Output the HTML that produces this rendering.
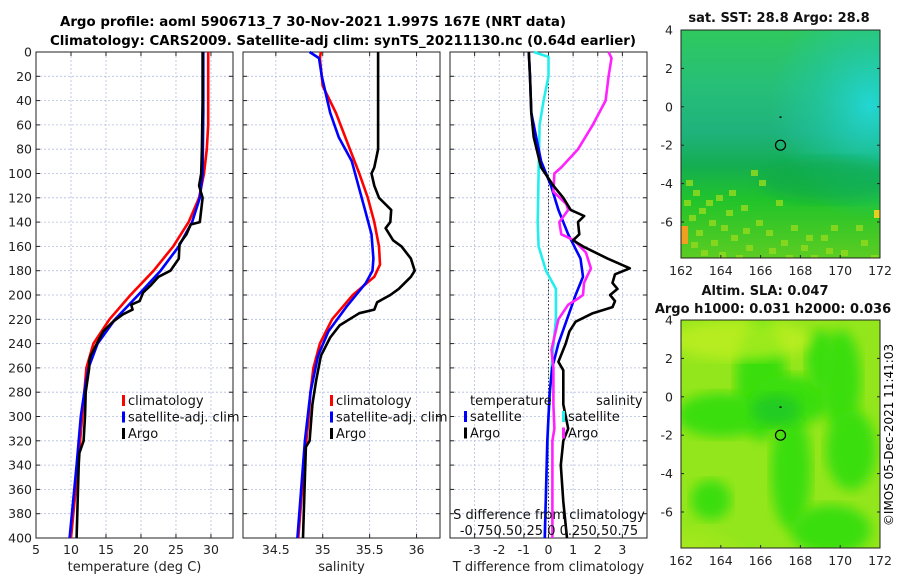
<!DOCTYPE html>
<html><head><meta charset="utf-8"><style>
html,body{margin:0;padding:0;background:#fff;width:900px;height:580px;overflow:hidden;}
svg{display:block;font-family:"DejaVu Sans","Liberation Sans",sans-serif;}
</style></head><body>
<svg id="fig" width="900" height="580" viewBox="0 0 900 580">
<defs>
<linearGradient id="sstV" x1="0" y1="0" x2="0" y2="1">
<stop offset="0" stop-color="#2fc85e"/><stop offset="0.25" stop-color="#26bf78"/><stop offset="0.45" stop-color="#1fb27c"/><stop offset="0.6" stop-color="#14ae50"/><stop offset="0.75" stop-color="#22c42a"/><stop offset="1" stop-color="#5ccc22"/>
</linearGradient>
<radialGradient id="sstCyan" cx="0.95" cy="0.33" r="0.5"><stop offset="0" stop-color="#22d8d8" stop-opacity="0.95"/><stop offset="0.6" stop-color="#20c8b0" stop-opacity="0.45"/><stop offset="1" stop-color="#20c8b0" stop-opacity="0"/></radialGradient>
<radialGradient id="slaYel" cx="0" cy="1" r="0.6"><stop offset="0" stop-color="#f0d820"/><stop offset="0.6" stop-color="#c8ec20" stop-opacity="0.7"/><stop offset="1" stop-color="#c8ec20" stop-opacity="0"/></radialGradient>
<filter id="blur6"><feGaussianBlur stdDeviation="6"/></filter>
<clipPath id="clipM1"><rect x="681" y="30" width="199" height="228"/></clipPath>
<clipPath id="clipM2"><rect x="681" y="320" width="199" height="228"/></clipPath>
</defs>
<g font-weight="bold" font-size="13" text-anchor="middle">
<text x="313" y="26" textLength="506" lengthAdjust="spacingAndGlyphs">Argo profile: aoml 5906713_7 30-Nov-2021 1.997S 167E (NRT data)</text>
<text x="343" y="45" textLength="586" lengthAdjust="spacingAndGlyphs">Climatology: CARS2009. Satellite-adj clim: synTS_20211130.nc (0.64d earlier)</text>
</g>
<g id="p1"></g>
<g id="p2"></g>
<g id="p3"></g>
<g id="m1"></g>
<g id="m2"></g>
<text x="893" y="435" font-size="12" text-anchor="middle" transform="rotate(-90 893 435)">©IMOS 05-Dec-2021 11:41:03</text>
</svg>
<script>
// ---- data ----
const depthTicks=[0,20,40,60,80,100,120,140,160,180,200,220,240,260,280,300,320,340,360,380,400];
const tempTicks=[5,10,15,20,25,30];
const salTicks=[34.5,35,35.5,36];
const tdiffTicks=[-3,-2,-1,0,1,2,3];
const tClimD=[0,20,60,80,100,120,140,160,180,200,220,240,260,280,300,340,400];
const tClimV=[29.6,29.6,29.6,29.4,29.0,28.3,26.8,24.6,21.8,18.5,15.5,13.2,12.2,11.9,11.6,11.0,10.0];
const tSatD=[0,50,100,120,140,160,180,200,220,240,260,280,300,340,400];
const tSatV=[28.9,28.9,28.8,28.4,27.3,25.4,22.8,19.6,16.3,13.8,12.5,11.9,11.4,10.8,9.8];
const tArgoD=[0,40,80,100,110,120,140,142,150,158,170,180,185,192,198,205,208,212,216,222,230,240,250,255,260,280,300,320,330,340,360,400];
const tArgoV=[28.8,28.8,28.7,28.6,28.3,28.8,28.4,27.1,26.5,25.5,25.4,24.2,22.5,21.4,20.3,19.8,18.6,18.8,17.4,16.0,14.6,13.7,12.8,12.6,12.6,12.1,12.0,11.8,11.2,11.1,11.0,10.8];
const sClimD=[0,5,28,50,80,100,120,140,160,175,185,200,220,240,260,280,300,340,400];
const sClimV=[34.98,34.97,35.0,35.14,35.29,35.39,35.48,35.55,35.6,35.61,35.55,35.32,35.1,34.97,34.9,34.87,34.85,34.8,34.74];
const sSatD=[0,5,20,50,70,90,110,130,150,170,180,190,210,230,250,280,320,400];
const sSatV=[34.86,34.96,34.99,35.08,35.17,35.31,35.38,35.45,35.52,35.54,35.53,35.46,35.25,35.06,34.95,34.87,34.81,34.73];
const sArgoD=[0,80,95,100,110,120,130,140,145,155,160,170,180,185,195,200,206,212,215,225,235,250,270,290,320,325,350,400];
const sArgoV=[35.59,35.59,35.55,35.52,35.55,35.6,35.73,35.72,35.67,35.75,35.84,35.94,35.98,35.94,35.81,35.72,35.58,35.55,35.39,35.18,35.08,34.98,34.93,34.89,34.86,34.82,34.81,34.79];
const dtSatD=[0,20,50,70,90,110,130,150,170,185,200,220,240,260,280,320,400];
const dtSatV=[-0.8,-0.75,-0.7,-0.5,-0.3,0.1,0.4,0.8,1.3,1.4,1.1,0.75,0.4,0.15,0.05,-0.05,-0.15];
const dtArgoD=[0,20,50,70,95,110,120,130,135,140,150,155,160,170,178,183,190,195,200,205,210,215,222,230,240,255,262,275,290,310,320,340,370,400];
const dtArgoV=[-0.8,-0.75,-0.7,-0.6,-0.3,0.2,0.6,0.9,1.45,1.2,1.25,1.0,1.4,2.4,3.3,2.7,2.6,2.8,2.5,2.7,2.6,1.8,1.1,0.85,0.7,0.4,0.6,0.6,0.6,0.8,0.6,0.5,0.6,0.75];
const dsSatD=[0,4,20,40,60,100,140,160,180,195,220,250,300,400];
const dsSatV=[-0.15,0,0,-0.05,-0.09,-0.1,-0.11,-0.1,-0.025,0.075,0.075,0.04,0,-0.04];
const dsArgoD=[0,5,20,40,60,80,95,100,115,125,130,140,150,155,165,178,190,200,203,208,220,245,260,290,310,320,400];
const dsArgoV=[0.61,0.64,0.61,0.58,0.45,0.3,0.13,0.06,0.05,0.18,0.2,0.11,0.13,0.26,0.38,0.43,0.36,0.35,0.3,0.2,0.1,0.03,0.05,0.05,0.06,0.04,0.04];
const latTicks=[4,2,0,-2,-4,-6];
const lonTicks=[162,164,166,168,170,172];

const NS='http://www.w3.org/2000/svg';
function mk(parent,tag,attrs,txt){const e=document.createElementNS(NS,tag);for(const k in attrs)e.setAttribute(k,attrs[k]);if(txt!==undefined)e.textContent=txt;parent.appendChild(e);return e;}
const Y0=52,Y1=538;
const yD=d=>Y0+(Y1-Y0)*d/400;

function panel(g,x0,x1,xmin,xmax,xt,showY,xlabel,xtlabels){
  const xs=v=>x0+(x1-x0)*(v-xmin)/(xmax-xmin);
  depthTicks.forEach(d=>{const l=mk(g,'line',{x1:x0,x2:x1,y1:yD(d),y2:yD(d),stroke:'#b4bedf','stroke-width':0.8,'stroke-dasharray':'2,2'});
    
    
    mk(g,'line',{x1:x0,x2:x0+4,y1:yD(d),y2:yD(d),stroke:'#222'});mk(g,'line',{x1:x1-4,x2:x1,y1:yD(d),y2:yD(d),stroke:'#222'});
    if(showY){const t=mk(g,'text',{x:x0-4,y:yD(d)+4.5,'font-size':12.5,'text-anchor':'end',fill:'#222'},d);
      
      }
  });
  xt.forEach((v,i)=>{const X=xs(v);const l=mk(g,'line',{x1:X,x2:X,y1:Y0,y2:Y1,stroke:'#b4bedf','stroke-width':0.8,'stroke-dasharray':'2,2'});
    
    
    mk(g,'line',{x1:X,x2:X,y1:Y1,y2:Y1-4,stroke:'#222'});mk(g,'line',{x1:X,x2:X,y1:Y0,y2:Y0+4,stroke:'#222'});
    const t=mk(g,'text',{x:X,y:554,'font-size':12.5,'text-anchor':'middle',fill:'#222'},xtlabels?xtlabels[i]:v);
    
    
  });
  const r=mk(g,'rect',{x:x0,y:Y0,width:x1-x0,height:Y1-Y0,fill:'none',stroke:'#222','stroke-width':1});
  
  
  const xl=mk(g,'text',{x:(x0+x1)/2,y:571,'font-size':13,'text-anchor':'middle',fill:'#222'},xlabel);
  
  
  return xs;
}
function line(g,xs,D,V,color,name,scale){
  const pts=D.map((d,i)=>xs(V[i]*(scale||1)).toFixed(1)+','+yD(d).toFixed(1)).join(' ');
  const p=mk(g,'polyline',{points:pts,fill:'none',stroke:color,'stroke-width':2.6,'stroke-linejoin':'round'});
  
  
}
function legend(g,x,y,items){
  items.forEach((it,i)=>{
    mk(g,'rect',{x:x,y:y+i*16.5-10,width:3,height:11,fill:it[1]});
    const t=mk(g,'text',{x:x+6,y:y+i*16.5,'font-size':13,fill:'#111'},it[0]);
    
    
  });
}
const g1=document.getElementById('p1');
const xs1=panel(g1,36,233,5,33.15,tempTicks,true,'temperature (deg C)');
line(g1,xs1,tClimD,tClimV,'#f00','temperature-climatology-line');
line(g1,xs1,tSatD,tSatV,'#00f','temperature-satellite-line');
line(g1,xs1,tArgoD,tArgoV,'#000','temperature-argo-line');
legend(g1,122,405,[['climatology','#f00'],['satellite-adj. clim','#00f'],['Argo','#000']]);
const g2=document.getElementById('p2');
const xs2=panel(g2,243,440,34.15,36.25,salTicks,false,'salinity');
line(g2,xs2,sClimD,sClimV,'#f00','salinity-climatology-line');
line(g2,xs2,sSatD,sSatV,'#00f','salinity-satellite-line');
line(g2,xs2,sArgoD,sArgoV,'#000','salinity-argo-line');
legend(g2,330,405,[['climatology','#f00'],['satellite-adj. clim','#00f'],['Argo','#000']]);
const g3=document.getElementById('p3');
const xs3=panel(g3,450,647,-4,4,tdiffTicks,false,'T difference from climatology');
mk(g3,'line',{x1:xs3(0),x2:xs3(0),y1:Y0,y2:Y1,stroke:'#333','stroke-dasharray':'1.5,2'});
line(g3,xs3,dsSatD,dsSatV,'#22eeee','salinity-satellite-diff-line',4);
line(g3,xs3,dtSatD,dtSatV,'#00f','temperature-satellite-diff-line');
line(g3,xs3,dsArgoD,dsArgoV,'#ff22ff','salinity-argo-diff-line',4);
line(g3,xs3,dtArgoD,dtArgoV,'#000','temperature-argo-diff-line');
mk(g3,'text',{x:470,y:405,'font-size':13,fill:'#111'},'temperature');
mk(g3,'text',{x:596,y:405,'font-size':13,fill:'#111'},'salinity');
legend(g3,464,421,[['satellite','#00f'],['Argo','#000']]);
legend(g3,562,421,[['satellite','#22eeee'],['Argo','#ff22ff']]);
const st=mk(g3,'text',{x:549,y:519,'font-size':13,'text-anchor':'middle',fill:'#111'},'S difference from climatology');


const sl=mk(g3,'text',{x:549,y:535,'font-size':13,'text-anchor':'middle',fill:'#111'},'-0.750.50.25 0 0.250.50.75');



function map(g,x0,y0,title,kind){
  const W=199,H=228;
  const lat=v=>y0+(4-v)*19.2, lon=v=>x0+(v-162)*19.9;
  const c=mk(g,'g',{'clip-path':'url(#clipM'+(kind==='sst'?1:2)+')'});
  if(kind==='sst'){
    mk(c,'rect',{x:x0,y:y0,width:W,height:H,fill:'url(#sstV)'});
    mk(c,'rect',{x:x0,y:y0,width:W,height:H,fill:'url(#sstCyan)'});
    mk(c,'ellipse',{cx:x0+150,cy:y0+150,rx:70,ry:22,fill:'#10a84a',opacity:0.6,filter:'url(#blur6)'});
    const spk=[[5,150],[12,160],[25,170],[35,165],[45,180],[60,175],[75,190],[15,200],[30,210],[50,205],[65,215],[85,200],[100,210],[8,185],[120,215],[140,205],[160,220],[180,210],[20,220],[40,195],[70,140],[78,150],[90,230],[110,195],[130,225],[175,195],[190,225],[55,225],[95,170],[150,195],[3,170],[18,178],[28,190],[48,160],[62,198],[88,218],[105,225],[125,205],[145,218],[168,228],[38,222],[10,212]];
    spk.forEach(p=>mk(c,'rect',{x:x0+p[0],y:y0+p[1],width:7,height:6,fill:'#8fd81e',opacity:0.85}));
    mk(c,'rect',{x:x0,y:y0+196,width:7,height:18,fill:'#f0a020'});
    mk(c,'rect',{x:x0+193,y:y0+180,width:6,height:8,fill:'#e8d020'});
  } else {
    mk(c,'rect',{x:x0,y:y0,width:W,height:H,fill:'#94e61c'});
    mk(c,'rect',{x:x0,y:y0+110,width:W,height:H,fill:'url(#slaYel)'});
    const blobs=[[80,60,25,60],[110,80,40,25],[40,95,45,22],[160,60,20,50],[110,150,20,60],[170,130,25,40],[150,210,40,25],[30,180,20,20],[140,40,15,30]];
    blobs.forEach(b=>mk(c,'ellipse',{cx:x0+b[0],cy:y0+b[1],rx:b[2],ry:b[3],fill:'#3ade10',filter:'url(#blur6)'}));
    mk(c,'ellipse',{cx:x0+95,cy:y0+90,rx:25,ry:16,fill:'#22cc22',filter:'url(#blur6)'});
    mk(c,'ellipse',{cx:x0+60,cy:y0+20,rx:70,ry:20,fill:'#c4f020',opacity:0.7,filter:'url(#blur6)'});
  }
  latTicks.forEach(v=>{mk(g,'line',{x1:x0,x2:x0+3,y1:lat(v),y2:lat(v),stroke:'#222'});mk(g,'line',{x1:x0+W-3,x2:x0+W,y1:lat(v),y2:lat(v),stroke:'#222'});
    const t=mk(g,'text',{x:x0-8,y:lat(v)+4.5,'font-size':12.5,'text-anchor':'end',fill:'#222'},v);
    
    });
  lonTicks.forEach(v=>{mk(g,'line',{x1:lon(v),x2:lon(v),y1:y0+H,y2:y0+H-3,stroke:'#222'});
    const t=mk(g,'text',{x:lon(v),y:y0+H+17,'font-size':12.5,'text-anchor':'middle',fill:'#222'},v);
    
    });
  mk(g,'rect',{x:x0,y:y0,width:W,height:H,fill:'none',stroke:'#222'});
  const m=mk(g,'circle',{cx:lon(167),cy:lat(-2),r:5,fill:'none',stroke:'#000','stroke-width':1.2});
  
  
  mk(g,'rect',{x:lon(166.95),y:lat(-0.5),width:2,height:1.5,fill:'#000'});
  title.forEach((t,i)=>{const e=mk(g,'text',{x:t[1],y:t[2],'font-size':13,'font-weight':'bold','text-anchor':'middle',fill:'#111'},t[0]);
    
    });
}
map(document.getElementById('m1'),681,30,[['sat. SST: 28.8 Argo: 28.8',779,22]],'sst');
map(document.getElementById('m2'),681,320,[['Altim. SLA: 0.047',765,295],['Argo h1000: 0.031 h2000: 0.036',773,313]],'sla');
</script>
</body></html>
